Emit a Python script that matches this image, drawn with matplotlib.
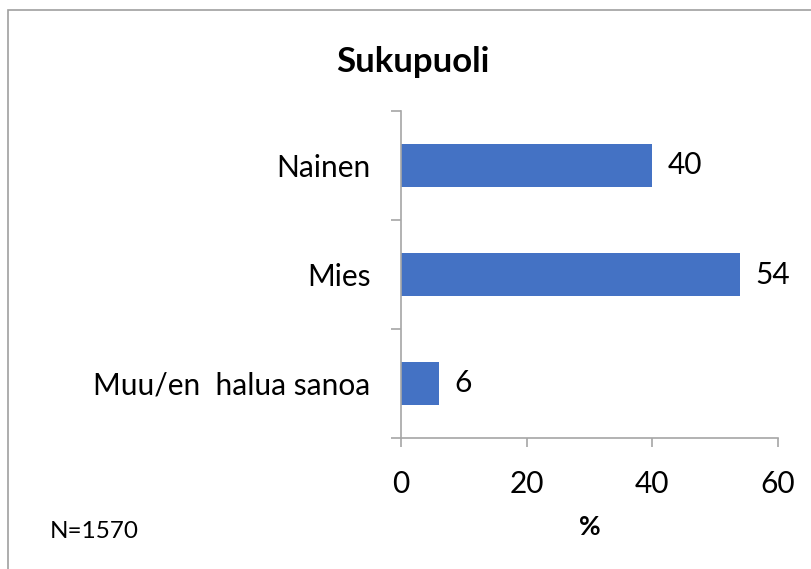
import matplotlib
matplotlib.use("Agg")
import matplotlib.pyplot as plt
from matplotlib.patches import Rectangle
from matplotlib.ticker import FixedLocator

categories = ["Nainen", "Mies", "Muu/en  halua sanoa"]
values = [40, 54, 6]
xticks = [0, 20, 40, 60]
title = "Sukupuoli"
xlabel = "%"
note = "N=1570"

plt.rcParams['font.family'] = ['Lato', 'DejaVu Sans']
W, H = 812, 569
fig = plt.figure(figsize=(W / 100, H / 100), dpi=100)
ax = fig.add_axes([401 / W, 1 - 438 / H, (778 - 401) / W, (438 - 111) / H])

ypos = list(range(len(categories)))
bar_color = "#4472C4"
ax.barh(ypos, values, height=0.39, color=bar_color)
for y, v in zip(ypos, values):
    ax.annotate(f"{v}", xy=(v, y), xytext=(11, 0), textcoords="offset points",
                va="center", ha="left", fontsize=21.5, color="black")

ax.set_ylim(len(categories) - 0.5, -0.5)
ax.set_xlim(xticks[0], xticks[-1])
ax.set_xticks(xticks)
ax.set_yticks(ypos)
ax.set_yticklabels(categories)
ax.yaxis.set_minor_locator(FixedLocator([i - 0.5 for i in range(len(categories) + 1)]))

spine_c = "#A6A6A6"
for s in ["top", "right"]:
    ax.spines[s].set_visible(False)
for s in ["left", "bottom"]:
    ax.spines[s].set_color(spine_c)
    ax.spines[s].set_linewidth(1.2)

ax.tick_params(axis="y", which="major", length=0, pad=22, labelsize=21.5, labelcolor="black")
ax.tick_params(axis="y", which="minor", length=7.5, width=1.2, color=spine_c, direction="out")
ax.tick_params(axis="x", which="major", length=6.5, width=1.2, color=spine_c, pad=16.5,
               labelsize=21.5, labelcolor="black")

ax.set_xlabel(xlabel, fontsize=19, fontweight="bold", labelpad=12)
fig.text(413 / W, 1 - 62 / H, title, ha="center", va="center", fontsize=25, fontweight="bold")
fig.text(50 / W, 1 - 532 / H, note, ha="left", va="center", fontsize=17.5)

fig.patches.append(Rectangle((8 / W, -0.1), 1.2, 1 - 10 / H + 0.1, transform=fig.transFigure,
                             fill=False, edgecolor="#A0A0A0", linewidth=1.2))

fig.savefig("out.png", dpi=100, facecolor="white")
